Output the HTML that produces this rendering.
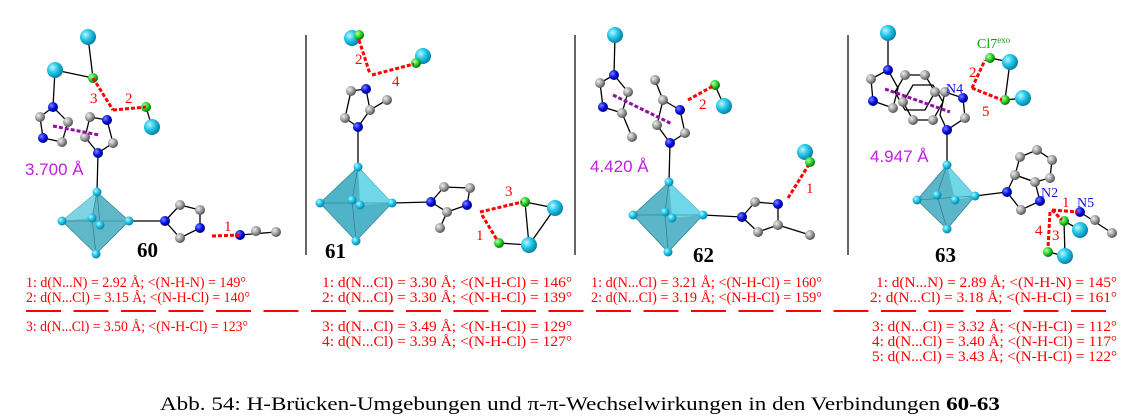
<!DOCTYPE html>
<html><head><meta charset="utf-8"><style>
html,body{margin:0;padding:0;background:#fff;}
svg{display:block;}
.r{font-family:"Liberation Serif",serif;font-size:15px;fill:#f00;}
.n{font-family:"Liberation Serif",serif;font-size:15px;fill:#f00;}
.p{font-family:"Liberation Sans",sans-serif;font-size:17px;fill:#c020e0;}
.b{font-family:"Liberation Serif",serif;font-size:21px;font-weight:bold;fill:#000;}
.bl{font-family:"Liberation Serif",serif;font-size:14px;fill:#1010e0;}
</style></head><body>
<svg width="1142" height="420" viewBox="0 0 1142 420" xmlns="http://www.w3.org/2000/svg">
<defs>
<radialGradient id="gc" cx="35%" cy="35%" r="65%"><stop offset="0" stop-color="#bff4ff"/><stop offset="0.5" stop-color="#22c8ea"/><stop offset="1" stop-color="#0a84a8"/></radialGradient>
<radialGradient id="gn" cx="35%" cy="35%" r="65%"><stop offset="0" stop-color="#8080ff"/><stop offset="0.6" stop-color="#0010e0"/><stop offset="1" stop-color="#000080"/></radialGradient>
<radialGradient id="gg" cx="35%" cy="35%" r="65%"><stop offset="0" stop-color="#eee"/><stop offset="0.6" stop-color="#999"/><stop offset="1" stop-color="#555"/></radialGradient>
<radialGradient id="gl" cx="35%" cy="35%" r="65%"><stop offset="0" stop-color="#b0ffb0"/><stop offset="0.6" stop-color="#20d020"/><stop offset="1" stop-color="#087008"/></radialGradient>
<circle id="C" r="8" fill="url(#gc)"/>
<circle id="c" r="4.5" fill="url(#gc)"/>
<circle id="N" r="5" fill="url(#gn)"/>
<circle id="G" r="5" fill="url(#gg)"/>
<circle id="L" r="5" fill="url(#gl)"/>
<circle id="H" r="2" fill="#ccc"/>
</defs>
<g stroke="#000" stroke-width="1.2">
<line x1="306" y1="35" x2="306" y2="255"/><line x1="575" y1="35" x2="575" y2="255"/><line x1="848" y1="35" x2="848" y2="255"/>
</g>

<!-- Panel 60 -->
<g stroke="#000" stroke-width="1.3" fill="none">
<line x1="88" y1="37" x2="93" y2="78"/><line x1="55" y1="70" x2="93" y2="78"/><line x1="55" y1="70" x2="53" y2="107"/>
<polygon points="53,107 40,117 43,138 62,142 68,122"/>
<polygon points="107,120 90,117 85,137 98,153 113,143"/>
<line x1="146" y1="107" x2="152" y2="127"/>
<line x1="98" y1="153" x2="97" y2="192"/>
<line x1="129" y1="221" x2="165" y2="221"/>
<polygon points="165,221 180,205 200,210 200,228 180,238"/>
<line x1="240" y1="235" x2="276" y2="232"/>
</g>
<polygon points="97,192 62,221 96,254 129,221" fill="#5fb8c8" stroke="#3a8898" stroke-width="0.8"/>
<polygon points="97,192 62,221 92,218" fill="#7fd4e4"/>
<g stroke="#2a7080" stroke-width="0.6"><line x1="97" y1="192" x2="92" y2="218"/><line x1="62" y1="221" x2="129" y2="221"/><line x1="92" y1="218" x2="96" y2="254"/><line x1="100" y1="225" x2="97" y2="192"/></g>
<use href="#C" x="88" y="37"/><use href="#C" x="55" y="70"/><use href="#L" x="93" y="78"/><use href="#L" x="146" y="107"/><use href="#C" x="152" y="127"/>
<use href="#N" x="53" y="107"/><use href="#G" x="40" y="117"/><use href="#N" x="43" y="138"/><use href="#G" x="62" y="142"/><use href="#G" x="68" y="122"/>
<use href="#N" x="107" y="120"/><use href="#G" x="90" y="117"/><use href="#G" x="85" y="137"/><use href="#N" x="98" y="153"/><use href="#G" x="113" y="143"/>
<use href="#c" x="97" y="192"/><use href="#c" x="62" y="221"/><use href="#c" x="96" y="254"/><use href="#c" x="129" y="221"/><use href="#c" x="92" y="218"/><use href="#c" x="100" y="225"/>
<use href="#N" x="165" y="221"/><use href="#G" x="180" y="205"/><use href="#G" x="200" y="210"/><use href="#N" x="200" y="228"/><use href="#G" x="180" y="238"/>
<use href="#N" x="240" y="235"/><use href="#G" x="256" y="231"/><use href="#G" x="276" y="232"/>
<g stroke="#f00" stroke-width="3" stroke-dasharray="4,2"><line x1="93" y1="78" x2="113" y2="110"/><line x1="113" y1="110" x2="146" y2="107"/><line x1="212" y1="236" x2="240" y2="235"/></g>
<line x1="53" y1="126" x2="99" y2="135" stroke="#9010a0" stroke-width="3" stroke-dasharray="4,2"/>
<text class="n" x="90" y="103">3</text><text class="n" x="125" y="103">2</text><text class="n" x="224" y="231">1</text>
<text class="p" x="25" y="175">3.700 Å</text>
<text class="b" x="137" y="257">60</text>

<!-- Panel 61 -->
<g stroke="#000" stroke-width="1.3" fill="none">
<polygon points="366,89 351,91 345,118 358,127 370,110"/><line x1="370" y1="110" x2="387" y2="100"/>
<line x1="358" y1="127" x2="358" y2="167"/>
<line x1="392" y1="203" x2="431" y2="202"/>
<polygon points="431,202 444,187 470,188 467,205 447,212"/><line x1="447" y1="212" x2="440" y2="228"/>
<line x1="525" y1="202" x2="555" y2="208"/><line x1="525" y1="202" x2="529" y2="245"/><line x1="499" y1="243" x2="529" y2="245"/><line x1="555" y1="208" x2="529" y2="245"/>
</g>
<polygon points="358,167 320,203 356,241 392,203" fill="#4fb4c8" stroke="#3a8898" stroke-width="0.8"/>
<polygon points="358,167 392,203 360,205" fill="#6fd8e8"/>
<g stroke="#2a7080" stroke-width="0.6"><line x1="358" y1="167" x2="352" y2="200"/><line x1="320" y1="203" x2="392" y2="203"/><line x1="352" y1="200" x2="356" y2="241"/></g>
<use href="#C" x="352" y="38"/><use href="#L" x="359" y="35"/><use href="#C" x="423" y="56"/><use href="#L" x="416" y="63"/>
<use href="#N" x="366" y="89"/><use href="#G" x="351" y="91"/><use href="#G" x="345" y="118"/><use href="#N" x="358" y="127"/><use href="#G" x="370" y="110"/><use href="#G" x="387" y="100"/>
<use href="#c" x="358" y="167"/><use href="#c" x="320" y="203"/><use href="#c" x="392" y="203"/><use href="#c" x="356" y="241"/><use href="#c" x="352" y="200"/><use href="#c" x="360" y="205"/>
<use href="#N" x="431" y="202"/><use href="#G" x="444" y="187"/><use href="#G" x="470" y="188"/><use href="#N" x="467" y="205"/><use href="#G" x="447" y="212"/><use href="#G" x="440" y="228"/>
<use href="#L" x="525" y="202"/><use href="#C" x="555" y="208"/><use href="#L" x="499" y="243"/><use href="#C" x="529" y="245"/>
<g stroke="#f00" stroke-width="3" stroke-dasharray="4,2"><line x1="359" y1="40" x2="370" y2="74"/><line x1="372" y1="75" x2="414" y2="64"/><line x1="480" y1="212" x2="522" y2="202"/><line x1="482" y1="215" x2="497" y2="240"/></g>
<text class="n" x="355" y="64">2</text><text class="n" x="392" y="86">4</text><text class="n" x="505" y="196">3</text><text class="n" x="476" y="240">1</text>
<text class="b" x="325" y="258">61</text>

<!-- Panel 62 -->
<g stroke="#000" stroke-width="1.3" fill="none">
<line x1="615" y1="35" x2="614" y2="75"/>
<polygon points="614,75 600,83 603,107 622,113 628,92"/><line x1="622" y1="113" x2="632" y2="137"/>
<polygon points="680,110 663,100 657,125 670,143 685,133"/><line x1="663" y1="100" x2="655" y2="80"/>
<line x1="715" y1="85" x2="724" y2="106"/>
<line x1="670" y1="143" x2="669" y2="182"/>
<line x1="703" y1="215" x2="742" y2="217"/>
<polygon points="742,217 755,202 778,204 778,225 758,232"/><line x1="778" y1="225" x2="810" y2="235"/>
</g>
<polygon points="669,182 633,215 668,252 703,215" fill="#5ab6c8" stroke="#3a8898" stroke-width="0.8"/>
<polygon points="669,182 703,215 672,218" fill="#6fd8e8"/>
<g stroke="#2a7080" stroke-width="0.6"><line x1="669" y1="182" x2="665" y2="212"/><line x1="633" y1="215" x2="703" y2="215"/><line x1="665" y1="212" x2="668" y2="252"/></g>
<use href="#C" x="615" y="35"/><use href="#N" x="614" y="75"/><use href="#G" x="600" y="83"/><use href="#N" x="603" y="107"/><use href="#G" x="622" y="113"/><use href="#G" x="628" y="92"/><use href="#G" x="632" y="137"/>
<use href="#N" x="680" y="110"/><use href="#G" x="663" y="100"/><use href="#G" x="657" y="125"/><use href="#N" x="670" y="143"/><use href="#G" x="685" y="133"/><use href="#G" x="655" y="80"/>
<use href="#L" x="715" y="85"/><use href="#C" x="724" y="106"/>
<use href="#c" x="669" y="182"/><use href="#c" x="633" y="215"/><use href="#c" x="703" y="215"/><use href="#c" x="668" y="252"/><use href="#c" x="665" y="212"/><use href="#c" x="672" y="218"/>
<use href="#N" x="742" y="217"/><use href="#G" x="755" y="202"/><use href="#N" x="778" y="204"/><use href="#G" x="778" y="225"/><use href="#G" x="758" y="232"/><use href="#G" x="810" y="235"/>
<use href="#C" x="805" y="152"/><use href="#L" x="810" y="162"/>
<g stroke="#f00" stroke-width="3" stroke-dasharray="4,2"><line x1="688" y1="100" x2="713" y2="86"/><line x1="788" y1="198" x2="808" y2="166"/></g>
<line x1="613" y1="95" x2="672" y2="124" stroke="#9010a0" stroke-width="3" stroke-dasharray="4,2"/>
<text class="n" x="699" y="109">2</text><text class="n" x="806" y="193">1</text>
<text class="p" x="590" y="172">4.420 Å</text>
<text class="b" x="693" y="262">62</text>

<!-- Panel 63 -->
<g stroke="#000" stroke-width="1.3" fill="none">
<line x1="888" y1="33" x2="888" y2="70"/>
<polygon points="888,70 871,79 873,101 893,108 898,88"/>
<polygon points="905,75 925,75 935,92 925,110 905,110 895,92"/>
<polygon points="913,85 933,85 943,102 933,120 913,120 903,102"/>
<polygon points="963,98 945,92 940,115 947,130 965,118"/>
<line x1="990" y1="58" x2="1010" y2="62"/><line x1="1005" y1="100" x2="1023" y2="98"/><line x1="1010" y1="62" x2="1005" y2="100"/>
<line x1="947" y1="130" x2="947" y2="165"/>
<line x1="975" y1="196" x2="1007" y2="192"/>
<polygon points="1007,192 1015,175 1035,182 1040,201 1021,210"/>
<polygon points="1015,175 1020,157 1037,150 1052,160 1050,178 1035,182"/>
<line x1="1080" y1="212" x2="1112" y2="233"/>
<line x1="1064" y1="221" x2="1080" y2="230"/><line x1="1064" y1="221" x2="1065" y2="256"/><line x1="1048" y1="252" x2="1065" y2="256"/>
</g>
<polygon points="947,165 917,200 947,229 975,196" fill="#5ab6c8" stroke="#3a8898" stroke-width="0.8"/>
<polygon points="947,165 975,196 955,200" fill="#6fd8e8"/>
<g stroke="#2a7080" stroke-width="0.6"><line x1="947" y1="165" x2="937" y2="195"/><line x1="917" y1="200" x2="975" y2="196"/><line x1="937" y1="195" x2="947" y2="229"/></g>
<use href="#C" x="888" y="33"/><use href="#N" x="888" y="70"/><use href="#G" x="871" y="79"/><use href="#N" x="873" y="101"/><use href="#G" x="893" y="108"/>
<use href="#G" x="905" y="75"/><use href="#G" x="925" y="75"/><use href="#G" x="935" y="92"/><use href="#G" x="913" y="120"/><use href="#G" x="933" y="120"/><use href="#G" x="903" y="102"/>
<use href="#N" x="963" y="98"/><use href="#G" x="945" y="92"/><use href="#N" x="947" y="130"/><use href="#G" x="965" y="118"/>
<use href="#L" x="990" y="58"/><use href="#C" x="1010" y="62"/><use href="#L" x="1005" y="100"/><use href="#C" x="1023" y="98"/>
<use href="#c" x="947" y="165"/><use href="#c" x="917" y="200"/><use href="#c" x="975" y="196"/><use href="#c" x="947" y="229"/><use href="#c" x="937" y="195"/><use href="#c" x="955" y="200"/>
<use href="#N" x="1007" y="192"/><use href="#G" x="1015" y="175"/><use href="#G" x="1035" y="182"/><use href="#N" x="1040" y="201"/><use href="#G" x="1021" y="210"/>
<use href="#G" x="1020" y="157"/><use href="#G" x="1037" y="150"/><use href="#G" x="1052" y="160"/><use href="#G" x="1050" y="178"/>
<use href="#N" x="1080" y="212"/><use href="#G" x="1095" y="220"/><use href="#G" x="1112" y="233"/>
<use href="#L" x="1064" y="221"/><use href="#C" x="1080" y="230"/><use href="#L" x="1048" y="252"/><use href="#C" x="1065" y="256"/>
<g stroke="#f00" stroke-width="3" stroke-dasharray="4,2"><line x1="972" y1="88" x2="985" y2="60"/><line x1="972" y1="88" x2="1002" y2="100"/><line x1="1052" y1="210" x2="1078" y2="212"/><line x1="1052" y1="210" x2="1062" y2="220"/><line x1="1050" y1="212" x2="1048" y2="248"/></g>
<line x1="885" y1="89" x2="950" y2="112" stroke="#9010a0" stroke-width="3" stroke-dasharray="4,2"/>
<text class="n" x="969" y="77">2</text><text class="n" x="982" y="116">5</text><text class="n" x="1062" y="207">1</text><text class="n" x="1052" y="240">3</text><text class="n" x="1035" y="235">4</text>
<text x="977" y="48" style="font-family:'Liberation Serif',serif;font-size:14px;fill:#10a010">Cl7<tspan font-size="9" dy="-5">exo</tspan></text>
<text class="bl" x="946" y="93">N4</text><text class="bl" x="1041" y="197">N2</text><text class="bl" x="1077" y="207">N5</text>
<text class="p" x="870" y="162">4.947 Å</text>
<text class="b" x="935" y="262">63</text>

<!-- Text -->
<g lengthAdjust="spacingAndGlyphs">
<text class="r" x="26" y="287" textLength="220" lengthAdjust="spacingAndGlyphs">1: d(N...N) = 2.92 Å; &lt;(N-H-N) = 149°</text>
<text class="r" x="26" y="302" textLength="224" lengthAdjust="spacingAndGlyphs">2: d(N...Cl) = 3.15 Å; &lt;(N-H-Cl) = 140°</text>
<text class="r" x="26" y="331" textLength="222" lengthAdjust="spacingAndGlyphs">3: d(N...Cl) = 3.50 Å; &lt;(N-H-Cl) = 123°</text>
<text class="r" x="322" y="287" textLength="250" lengthAdjust="spacingAndGlyphs">1: d(N...Cl) = 3.30 Å; &lt;(N-H-Cl) = 146°</text>
<text class="r" x="322" y="302" textLength="250" lengthAdjust="spacingAndGlyphs">2: d(N...Cl) = 3.30 Å; &lt;(N-H-Cl) = 139°</text>
<text class="r" x="322" y="331" textLength="250" lengthAdjust="spacingAndGlyphs">3: d(N...Cl) = 3.49 Å; &lt;(N-H-Cl) = 129°</text>
<text class="r" x="322" y="346" textLength="250" lengthAdjust="spacingAndGlyphs">4: d(N...Cl) = 3.39 Å; &lt;(N-H-Cl) = 127°</text>
<text class="r" x="591" y="287" textLength="231" lengthAdjust="spacingAndGlyphs">1: d(N...Cl) = 3.21 Å; &lt;(N-H-Cl) = 160°</text>
<text class="r" x="591" y="302" textLength="231" lengthAdjust="spacingAndGlyphs">2: d(N...Cl) = 3.19 Å; &lt;(N-H-Cl) = 159°</text>
<text class="r" x="876" y="287" textLength="241" lengthAdjust="spacingAndGlyphs">1: d(N...N) = 2.89 Å; &lt;(N-H-N) = 145°</text>
<text class="r" x="870" y="302" textLength="247" lengthAdjust="spacingAndGlyphs">2: d(N...Cl) = 3.18 Å; &lt;(N-H-Cl) = 161°</text>
<text class="r" x="872" y="331" textLength="245" lengthAdjust="spacingAndGlyphs">3: d(N...Cl) = 3.32 Å; &lt;(N-H-Cl) = 112°</text>
<text class="r" x="872" y="346" textLength="245" lengthAdjust="spacingAndGlyphs">4: d(N...Cl) = 3.40 Å; &lt;(N-H-Cl) = 117°</text>
<text class="r" x="872" y="361" textLength="245" lengthAdjust="spacingAndGlyphs">5: d(N...Cl) = 3.43 Å; &lt;(N-H-Cl) = 122°</text>
</g>
<line x1="26" y1="311" x2="1117" y2="311" stroke="#f00" stroke-width="2" stroke-dasharray="35,12.5"/>
<text x="160" y="410" textLength="840" lengthAdjust="spacingAndGlyphs" style="font-family:'Liberation Serif',serif;font-size:19px;fill:#000">Abb. 54: H-Brücken-Umgebungen und π-π-Wechselwirkungen in den Verbindungen <tspan font-weight="bold">60-63</tspan></text>
</svg>
</body></html>
